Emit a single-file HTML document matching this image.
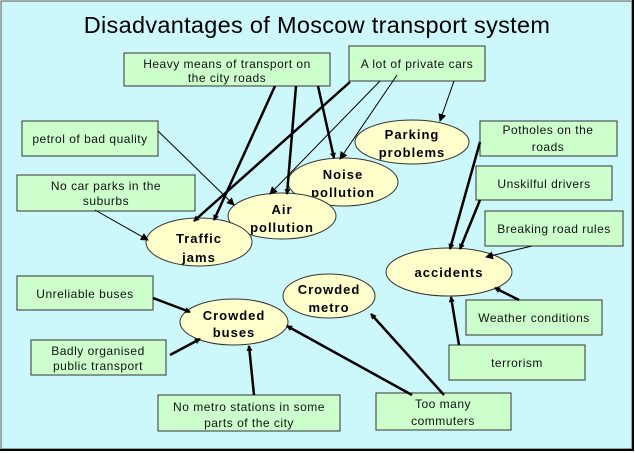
<!DOCTYPE html>
<html><head><style>
body{margin:0;background:#fff}
svg{display:block}
text{font-family:"Liberation Sans",sans-serif}
.b{fill:#ccffcc;stroke:#333;stroke-width:1}
.e{fill:#ffffcc;stroke:#333;stroke-width:1}
.t{font-size:12px;fill:#111;text-anchor:middle;letter-spacing:0.5px}
.n{font-size:13px;font-weight:bold;fill:#000;text-anchor:middle;letter-spacing:1px}
.k{stroke:#000;stroke-width:2.5;fill:none;marker-end:url(#a)}
.s{stroke:#000;stroke-width:1;fill:none;marker-end:url(#a2)}
</style></head><body>
<svg width="635" height="453" viewBox="0 0 635 453">
<defs>
<marker id="a" markerWidth="6" markerHeight="6" refX="5" refY="3" orient="auto" markerUnits="userSpaceOnUse"><path d="M0,0L6,3L0,6z" fill="#000"/></marker>
<marker id="a2" markerWidth="8" markerHeight="8" refX="7" refY="4" orient="auto" markerUnits="userSpaceOnUse"><path d="M0,0L8,4L0,8z" fill="#000"/></marker>
</defs>
<rect x="0" y="0" width="635" height="453" fill="#fff"/>
<rect x="1" y="1" width="631" height="448" fill="#ccf7fb" stroke="#555" stroke-width="1"/>
<line x1="0" y1="450" x2="634" y2="450" stroke="#000" stroke-width="2"/>
<line x1="633" y1="0" x2="633" y2="451" stroke="#000" stroke-width="2"/>
<text x="317" y="33" text-anchor="middle" font-size="23.5" fill="#000" style="letter-spacing:0.3px">Disadvantages of Moscow transport system</text>

<!-- boxes -->
<rect class="b" x="124" y="53" width="206" height="33"/>
<text class="t" x="227" y="68">Heavy means of transport on</text>
<text class="t" x="227" y="82">the city roads</text>
<rect class="b" x="349" y="46" width="136" height="35"/>
<text class="t" x="417" y="68">A lot of private cars</text>
<rect class="b" x="22" y="121" width="136" height="35"/>
<text class="t" x="90" y="143">petrol of bad quality</text>
<rect class="b" x="17" y="175" width="178" height="36"/>
<text class="t" x="106" y="190">No car parks in the</text>
<text class="t" x="106" y="205">suburbs</text>
<rect class="b" x="480" y="121" width="137" height="35"/>
<text class="t" x="548" y="134">Potholes on the</text>
<text class="t" x="548" y="151">roads</text>
<rect class="b" x="476" y="166" width="136" height="34"/>
<text class="t" x="544" y="188">Unskilful drivers</text>
<rect class="b" x="485" y="211" width="138" height="35"/>
<text class="t" x="554" y="233">Breaking road rules</text>
<rect class="b" x="17" y="276" width="136" height="34"/>
<text class="t" x="85" y="298">Unreliable buses</text>
<rect class="b" x="31" y="340" width="135" height="35"/>
<text class="t" x="98" y="355">Badly organised</text>
<text class="t" x="98" y="370">public transport</text>
<rect class="b" x="158" y="395" width="182" height="36"/>
<text class="t" x="249" y="411">No metro stations in some</text>
<text class="t" x="249" y="427">parts of the city</text>
<rect class="b" x="376" y="393" width="135" height="37"/>
<text class="t" x="443" y="408">Too many</text>
<text class="t" x="443" y="425">commuters</text>
<rect class="b" x="466" y="300" width="136" height="35"/>
<text class="t" x="534" y="322">Weather conditions</text>
<rect class="b" x="449" y="345" width="136" height="35"/>
<text class="t" x="517" y="367">terrorism</text>

<!-- ellipses -->
<ellipse class="e" cx="412" cy="142" rx="57" ry="22"/>
<text class="n" x="412" y="139">Parking</text>
<text class="n" x="412" y="157">problems</text>
<ellipse class="e" cx="343" cy="182" rx="55" ry="24"/>
<text class="n" x="343" y="179">Noise</text>
<text class="n" x="343" y="197">pollution</text>
<ellipse class="e" cx="282" cy="216" rx="54" ry="23"/>
<text class="n" x="282" y="214">Air</text>
<text class="n" x="282" y="232">pollution</text>
<ellipse class="e" cx="199" cy="242" rx="53" ry="24"/>
<text class="n" x="199" y="243">Traffic</text>
<text class="n" x="199" y="262">jams</text>
<ellipse class="e" cx="449" cy="272" rx="63" ry="24"/>
<text class="n" x="449" y="277">accidents</text>
<ellipse class="e" cx="329" cy="296" rx="46" ry="22"/>
<text class="n" x="329" y="294">Crowded</text>
<text class="n" x="329" y="312">metro</text>
<ellipse class="e" cx="234" cy="322" rx="54" ry="23"/>
<text class="n" x="234" y="320">Crowded</text>
<text class="n" x="234" y="337">buses</text>

<!-- connectors -->
<line class="k" x1="275" y1="86" x2="214" y2="220"/>
<line class="k" x1="350" y1="82" x2="194" y2="221"/>
<line class="k" x1="296" y1="86" x2="287" y2="194"/>
<line class="k" x1="318" y1="86" x2="334" y2="158"/>
<line class="s" x1="380" y1="81" x2="270" y2="194"/>
<line class="s" x1="397" y1="75" x2="340" y2="159"/>
<line class="s" x1="454" y1="81" x2="440" y2="121"/>
<line class="s" x1="158" y1="131" x2="234" y2="205"/>
<line class="s" x1="95" y1="210" x2="148" y2="240"/>
<line class="k" x1="480" y1="142" x2="450" y2="249"/>
<line class="k" x1="480" y1="200" x2="460" y2="249"/>
<line class="s" x1="532" y1="246" x2="486" y2="257"/>
<line class="k" x1="519" y1="300" x2="495" y2="288"/>
<line class="k" x1="459" y1="345" x2="451" y2="297"/>
<line class="k" x1="153" y1="298" x2="190" y2="312"/>
<line class="k" x1="170" y1="355" x2="200" y2="339"/>
<line class="k" x1="254" y1="395" x2="249" y2="346"/>
<line class="k" x1="412" y1="395" x2="287" y2="326"/>
<line class="k" x1="444" y1="395" x2="371" y2="314"/>
</svg>
</body></html>
